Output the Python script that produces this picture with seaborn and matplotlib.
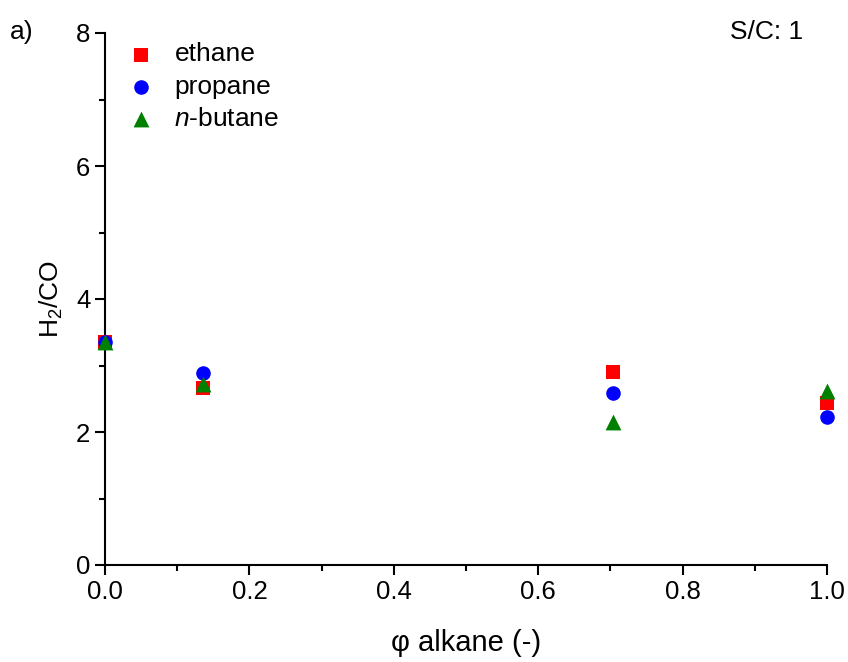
import matplotlib
matplotlib.use("Agg")
import matplotlib.pyplot as plt
import seaborn as sns
import pandas as pd
from matplotlib.ticker import MultipleLocator

phi = [0.0, 0.136, 0.704, 1.0]
ethane = [3.35, 2.66, 2.90, 2.44]
propane = [3.35, 2.88, 2.59, 2.22]
butane = [3.35, 2.72, 2.15, 2.61]
series = ["ethane", "propane", "$\\it{n}$-butane"]

df = pd.concat([
    pd.DataFrame({"phi": phi, "ratio": vals, "fuel": name})
    for name, vals in zip(series, [ethane, propane, butane])
], ignore_index=True)

sns.set_theme(style="ticks")
plt.rcParams["font.family"] = ["Liberation Sans", "DejaVu Sans"]
plt.rcParams["mathtext.fontset"] = "custom"
plt.rcParams["mathtext.rm"] = "Liberation Sans"
plt.rcParams["mathtext.it"] = "Liberation Sans:italic"
plt.rcParams["text.color"] = "black"
plt.rcParams["axes.labelcolor"] = "black"

fig = plt.figure(figsize=(8.48, 6.62), dpi=100)
ax = fig.add_axes([105/848, 97/662, 722/848, 532/662])

palette = {series[0]: "#ff0000", series[1]: "#0000ff", series[2]: "#008000"}
markers = {series[0]: "s", series[1]: "o", series[2]: "^"}
sizes = {series[0]: 90, series[1]: 110, series[2]: 130}
for name in series:
    sub = df[df["fuel"] == name]
    sns.scatterplot(data=sub, x="phi", y="ratio", color=palette[name],
                    marker=markers[name], s=sizes[name], linewidth=0,
                    label=name, ax=ax, zorder=3, clip_on=False)

ax.set_xlim(0, 1.0)
ax.set_ylim(0, 8)
ax.xaxis.set_major_locator(MultipleLocator(0.2))
ax.xaxis.set_minor_locator(MultipleLocator(0.1))
ax.yaxis.set_major_locator(MultipleLocator(2))
ax.yaxis.set_minor_locator(MultipleLocator(1))
ax.set_xticklabels([f"{v:.1f}" for v in ax.get_xticks()])
ax.tick_params(axis="both", which="major", direction="out", length=7, width=1.5,
               labelsize=18.5, color="black", labelcolor="black")
ax.tick_params(axis="both", which="minor", direction="out", length=4, width=1.5,
               color="black")
for side in ["top", "right"]:
    ax.spines[side].set_visible(False)
for side in ["left", "bottom"]:
    ax.spines[side].set_linewidth(1.5)
    ax.spines[side].set_color("black")

ax.set_xlabel("φ alkane (-)", fontsize=21, labelpad=18)
ax.set_ylabel("H$_2$/CO", fontsize=19, labelpad=8)

leg = ax.legend(loc="upper left", bbox_to_anchor=(-0.008, 1.012), frameon=False,
                fontsize=19, handletextpad=0.25, labelspacing=0.32,
                borderaxespad=0.2)

ax.text(0.967, 1.025, "S/C: 1", transform=ax.transAxes, ha="right", va="top",
        fontsize=19)
fig.text(10/848, 1 - 32/662, "a)", fontsize=19, ha="left", va="center")

fig.savefig("out.png", dpi=100)
